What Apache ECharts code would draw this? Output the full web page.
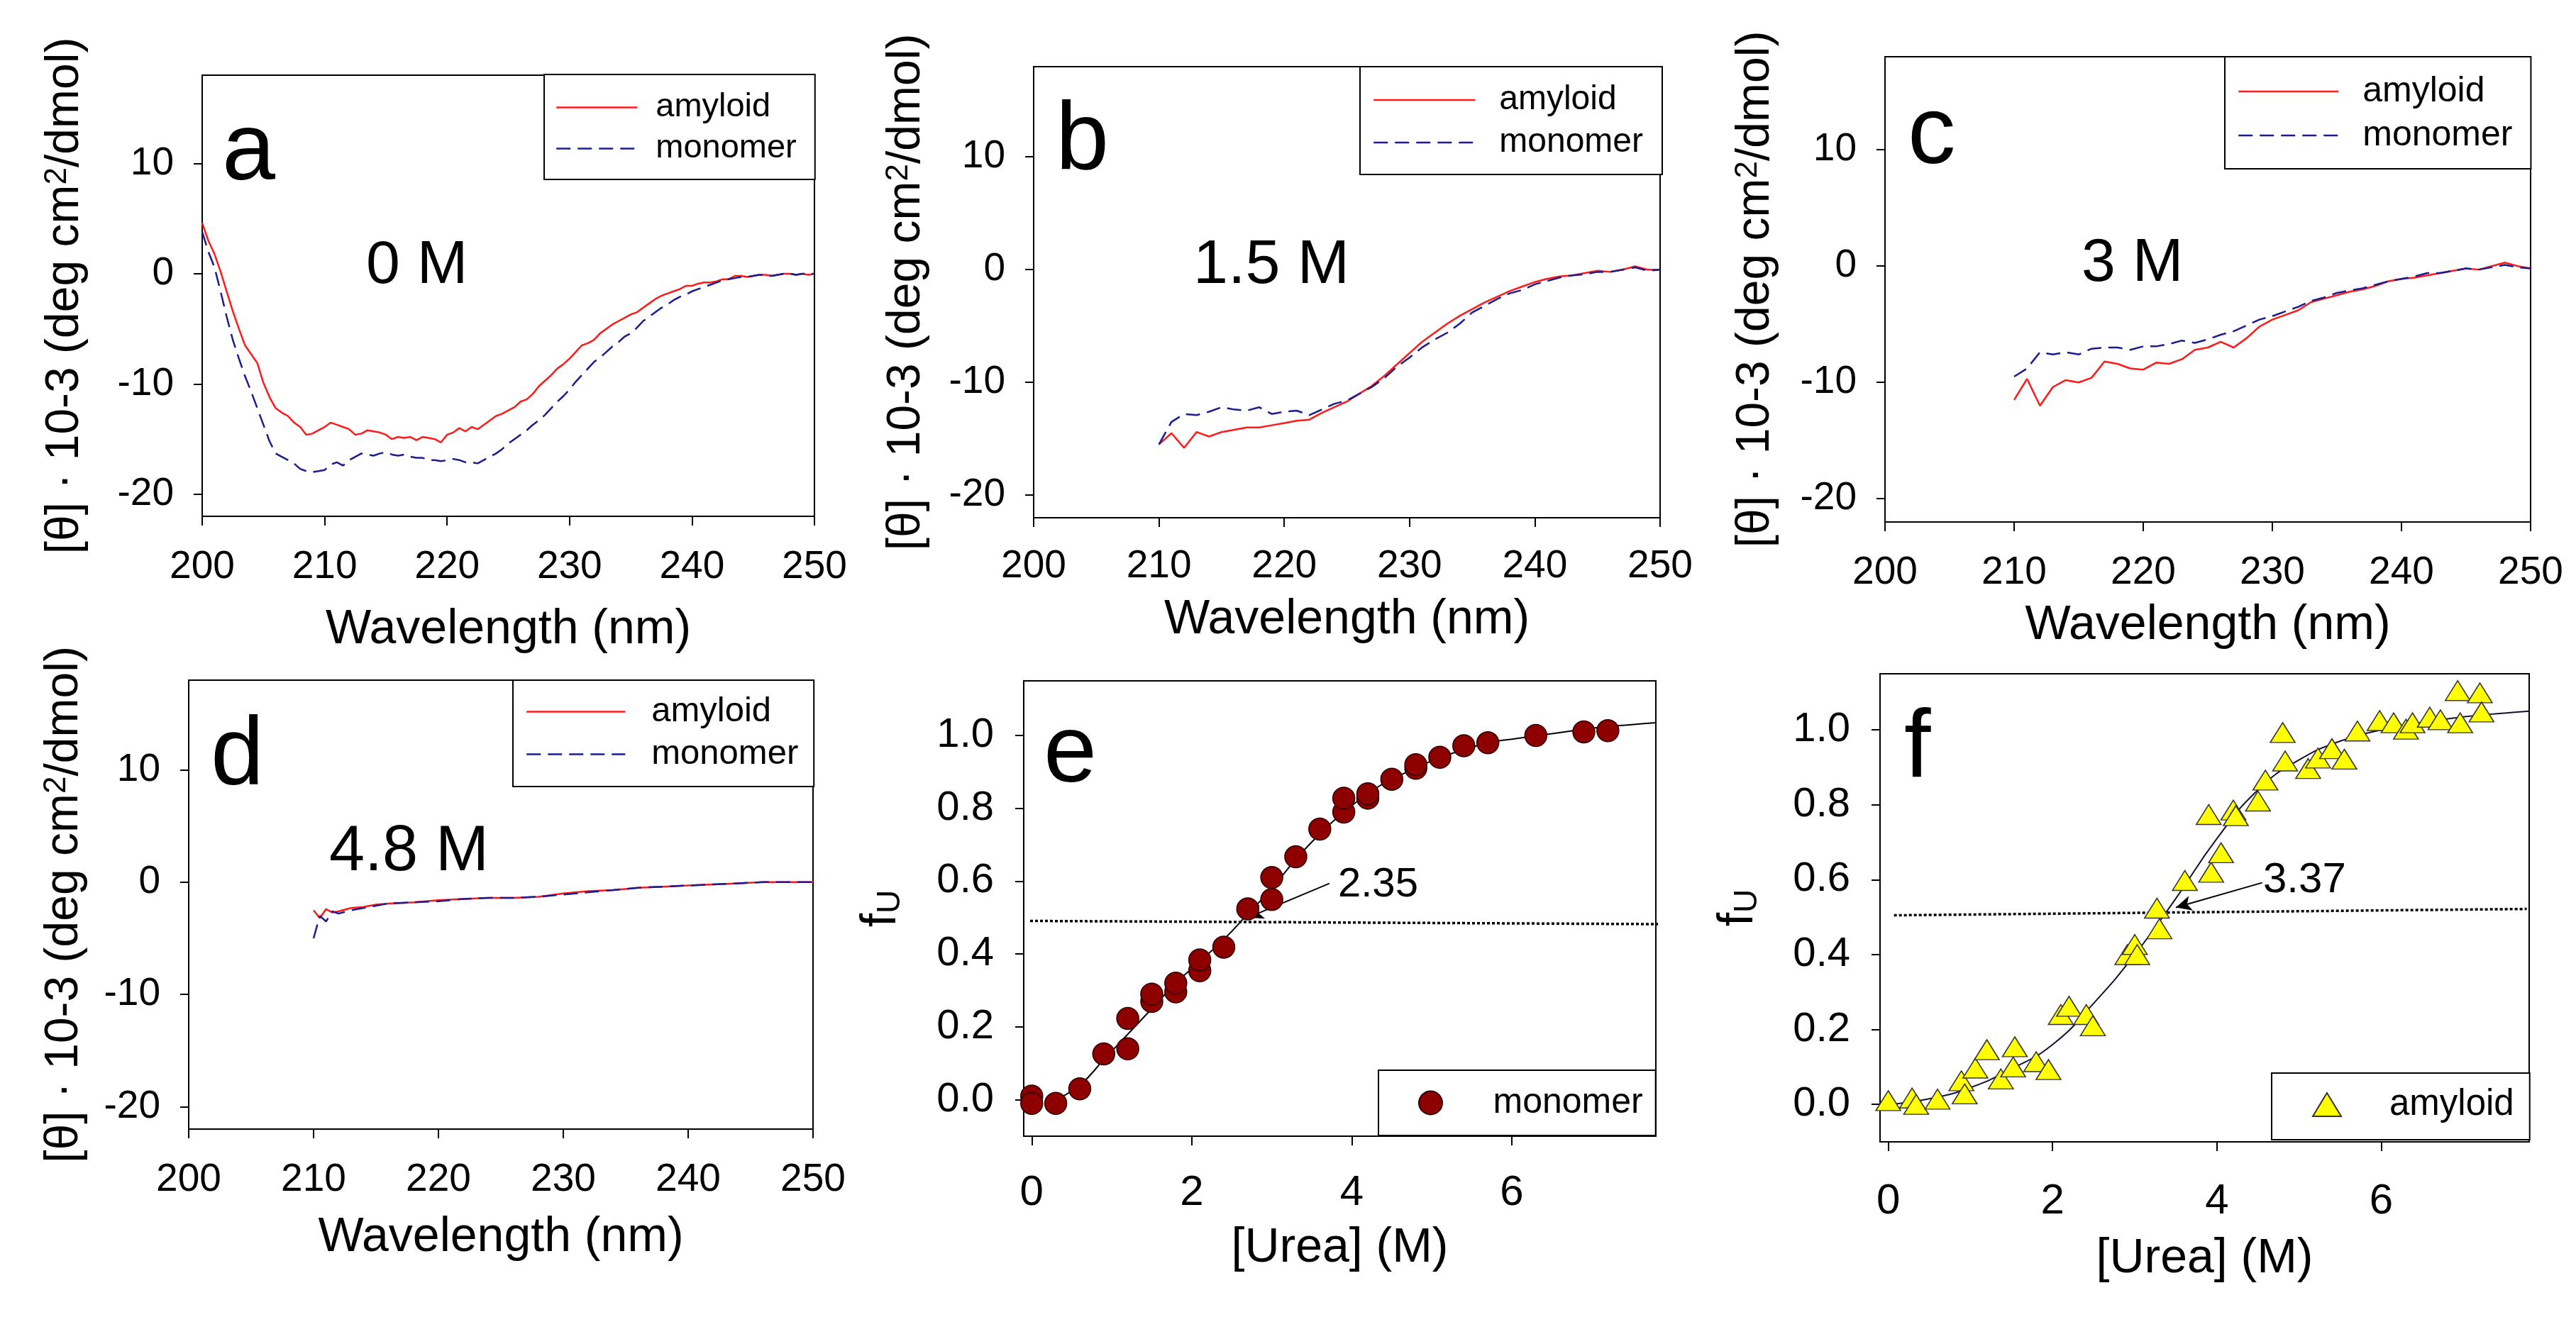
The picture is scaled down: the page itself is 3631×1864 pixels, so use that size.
<!DOCTYPE html>
<html><head><meta charset="utf-8">
<script src="https://cdn.jsdelivr.net/npm/echarts@6/dist/echarts.min.js"></script>
<style>html,body{margin:0;padding:0;background:#fff}#c{width:3631px;height:1864px}</style>
</head><body><div id="c"></div>
<script>
// ---------- DATA ----------
const wlA = [200,200.5,201,201.5,202,202.5,203,203.5,204,204.5,205,205.5,206,206.5,207,207.5,208,208.5,209,209.5,210,210.5,211,211.5,212,212.5,213,213.5,214,214.5,215,215.5,216,216.5,217,217.5,218,218.5,219,219.5,220,220.5,221,221.5,222,222.5,223,223.5,224,224.5,225,225.5,226,226.5,227,227.5,228,228.5,229,229.5,230,230.5,231,231.5,232,232.5,233,233.5,234,234.5,235,235.5,236,236.5,237,237.5,238,238.5,239,239.5,240,240.5,241,241.5,242,242.5,243,243.5,244,244.5,245,245.5,246,246.5,247,247.5,248,248.5,249,249.5,250];
const amyA = [4.6,3.0,1.8,0.2,-1.6,-3.4,-5.0,-6.5,-7.3,-8.1,-9.9,-11.2,-12.2,-12.6,-12.9,-13.5,-13.9,-14.6,-14.5,-14.2,-13.9,-13.5,-13.7,-13.9,-14.1,-14.6,-14.5,-14.2,-14.3,-14.4,-14.6,-15.0,-14.8,-14.9,-14.8,-15.1,-14.8,-14.9,-15.0,-15.3,-14.6,-14.4,-14.0,-14.3,-13.9,-14.1,-13.7,-13.3,-12.9,-12.7,-12.4,-12.1,-11.6,-11.4,-10.9,-10.2,-9.7,-9.2,-8.6,-8.2,-7.7,-7.1,-6.5,-6.3,-6.0,-5.4,-5.0,-4.6,-4.3,-4.0,-3.7,-3.5,-3.1,-2.7,-2.3,-2.0,-1.8,-1.6,-1.4,-1.1,-1.1,-0.9,-0.8,-0.8,-0.7,-0.5,-0.5,-0.2,-0.2,-0.3,-0.2,-0.1,-0.1,-0.2,-0.1,0.0,0.0,-0.1,0.0,-0.1,0.0];
const monoA = [3.8,2.0,0.6,-1.6,-3.9,-6.0,-7.7,-9.3,-10.7,-12.2,-13.7,-15.2,-16.3,-16.6,-16.9,-17.2,-17.7,-17.9,-18.0,-17.9,-17.8,-17.3,-17.1,-17.4,-16.9,-16.6,-16.3,-16.4,-16.5,-16.3,-16.2,-16.4,-16.5,-16.4,-16.6,-16.7,-16.7,-16.9,-16.9,-17.0,-16.9,-16.8,-16.9,-17.1,-17.1,-17.2,-16.9,-16.6,-16.3,-15.9,-15.4,-15.0,-14.6,-14.2,-13.7,-13.3,-12.8,-12.2,-11.6,-11.1,-10.5,-9.8,-9.2,-8.6,-8.0,-7.6,-7.1,-6.6,-6.2,-5.7,-5.4,-4.9,-4.3,-3.9,-3.5,-3.1,-2.8,-2.4,-2.1,-1.9,-1.6,-1.4,-1.2,-1.0,-0.8,-0.6,-0.5,-0.4,-0.3,-0.3,-0.2,-0.1,-0.1,-0.2,-0.1,0.0,0.0,-0.1,0.0,0.0,0.0];

const wlBC = [210,211,212,213,214,215,216,217,218,219,220,221,222,223,224,225,226,227,228,229,230,231,232,233,234,235,236,237,238,239,240,241,242,243,244,245,246,247,248,249,250];
const amyB = [-15.5,-14.5,-15.8,-14.4,-14.8,-14.4,-14.2,-14.0,-14.0,-13.8,-13.6,-13.4,-13.3,-12.7,-12.2,-11.7,-11.0,-10.3,-9.4,-8.4,-7.4,-6.4,-5.6,-4.8,-4.1,-3.5,-2.9,-2.4,-1.9,-1.5,-1.1,-0.8,-0.6,-0.5,-0.3,-0.1,-0.2,0.0,0.3,0.0,0.0];
const monoB = [-15.5,-13.5,-12.8,-12.9,-12.6,-12.2,-12.4,-12.5,-12.2,-12.8,-12.6,-12.5,-12.9,-12.4,-11.9,-11.6,-11.0,-10.4,-9.6,-8.6,-7.8,-6.9,-6.2,-5.6,-4.8,-3.8,-3.2,-2.6,-2.1,-1.8,-1.3,-1.0,-0.7,-0.5,-0.4,-0.2,-0.2,0.0,0.2,-0.1,0.0];
const amyC = [-11.5,-9.7,-12.0,-10.4,-9.8,-10.0,-9.6,-8.2,-8.4,-8.8,-8.9,-8.3,-8.4,-8.0,-7.2,-7.0,-6.5,-7.0,-6.2,-5.2,-4.6,-4.2,-3.8,-3.1,-2.8,-2.5,-2.2,-2.0,-1.7,-1.3,-1.1,-1.0,-0.8,-0.6,-0.4,-0.2,-0.3,0.0,0.3,0.0,-0.2];
const monoC = [-9.5,-8.8,-7.4,-7.6,-7.4,-7.6,-7.1,-7.0,-7.0,-7.2,-6.9,-6.9,-6.7,-6.4,-6.6,-6.3,-5.9,-5.6,-5.1,-4.6,-4.3,-3.9,-3.5,-3.0,-2.7,-2.3,-2.1,-1.9,-1.6,-1.3,-1.1,-0.9,-0.6,-0.6,-0.4,-0.2,-0.3,-0.1,0.1,-0.1,-0.2];

const wlD = [210,210.5,211,211.5,212,213,214,215,216,218,220,222,224,226,228,230,232,234,236,238,240,242,244,246,248,250];
const amyD = [-2.5,-3.2,-2.4,-2.7,-2.6,-2.3,-2.2,-2.0,-1.9,-1.8,-1.6,-1.5,-1.4,-1.4,-1.3,-1.0,-0.8,-0.7,-0.5,-0.4,-0.3,-0.2,-0.1,0.0,0.0,0.0];
const monoD = [-5.0,-3.0,-3.5,-2.6,-2.8,-2.5,-2.3,-2.1,-1.9,-1.8,-1.7,-1.5,-1.4,-1.4,-1.3,-1.1,-0.9,-0.7,-0.5,-0.4,-0.3,-0.2,-0.1,0.0,0.0,0.0];

const ureaE = [0,0,0.3,0.6,0.9,1.2,1.2,1.5,1.5,1.8,1.8,2.1,2.1,2.4,2.7,3.0,3.0,3.3,3.6,3.9,3.9,4.2,4.2,4.5,4.8,4.8,5.1,5.4,5.7,6.3,6.9,7.2];
const fuE = [0.01,-0.01,-0.01,0.03,0.126,0.223,0.14,0.27,0.29,0.296,0.32,0.354,0.384,0.419,0.524,0.55,0.61,0.667,0.743,0.79,0.828,0.828,0.84,0.88,0.91,0.92,0.94,0.972,0.98,1.0,1.01,1.013];
const fitXE = [0.3,0.6,0.9,1.2,1.5,1.8,2.1,2.4,2.7,3.0,3.3,3.6,3.9,4.2,4.5,4.8,5.1,5.4,5.7,6.0,6.5,7.0,7.5,7.8];
const fitYE = [0.0,0.04,0.11,0.18,0.25,0.32,0.38,0.44,0.51,0.58,0.66,0.73,0.79,0.84,0.88,0.91,0.94,0.96,0.98,0.99,1.005,1.02,1.03,1.035];

const ureaF = [0.0,0.29,0.34,0.6,0.89,0.93,1.06,1.2,1.37,1.52,1.54,1.8,1.95,2.1,2.2,2.41,2.49,2.91,3.0,3.03,3.27,3.3,3.61,3.9,3.93,4.05,4.2,4.23,4.5,4.59,4.8,4.83,5.11,5.23,5.4,5.55,5.71,5.98,6.15,6.3,6.38,6.59,6.72,6.93,6.96,7.2,7.22];
const fuF = [0.01,0.017,0.0,0.014,0.063,0.028,0.097,0.146,0.068,0.10,0.154,0.114,0.093,0.24,0.262,0.24,0.21,0.40,0.427,0.40,0.524,0.469,0.598,0.774,0.62,0.672,0.786,0.771,0.81,0.866,0.993,0.917,0.897,0.925,0.95,0.922,0.997,1.025,1.019,1.002,1.019,1.034,1.027,1.105,1.019,1.099,1.048];
const fitXF = [0,0.5,1,1.5,2,2.5,3,3.5,4,4.5,5,5.5,6,6.5,7,7.5,7.8];
const fitYF = [0.0,0.015,0.045,0.095,0.16,0.27,0.40,0.55,0.71,0.84,0.92,0.97,1.0,1.02,1.035,1.045,1.05];

const midLineE = [[-0.02,0.491],[7.95,0.482]];
const midLineF = [[0.07,0.505],[7.77,0.522]];
const arrowE = [[3.72,0.594],[2.7,0.5]];
const arrowF = [[4.55,0.592],[3.5,0.526]];

const wlTicks = [200,210,220,230,240,250];
const cdTicks = [-20,-10,0,10];
const ureaTicks = [0,2,4,6];
const fuTicks = [0,0.2,0.4,0.6,0.8,1.0];

// ---------- CHART ----------
const FONT = '"Liberation Sans", Arial, Helvetica, sans-serif';
const RED = '#ff1a1a', BLUE = '#1c1c8f';
const chart = echarts.init(document.getElementById('c'), null, {renderer:'canvas'});
const zip = (xs, ys) => xs.map((x,i)=>[x, ys[i]]);

const gridBoxes = [
  {left:285, top:106, width:863, height:622},
  {left:1457, top:94, width:883, height:636},
  {left:2657, top:80, width:910, height:656},
  {left:266, top:959, width:880, height:633},
  {left:1443, top:960, width:891, height:642},
  {left:2650, top:950, width:915, height:660}
];
const grid = gridBoxes.map(g => Object.assign({show:true, borderColor:'#000', borderWidth:2, backgroundColor:'rgba(0,0,0,0)', containLabel:false, outerBoundsMode:'none'}, g));

const axisCommon = () => ({
  axisLine:{show:true, onZero:false, lineStyle:{color:'#000', width:2}},
  splitLine:{show:false},
  nameTextStyle:{color:'#000', fontFamily:FONT, fontSize:68}
});
function xCD(gi, gap, margin){
  return Object.assign(axisCommon(), {type:'value', gridIndex:gi, min:200, max:250,
    name:'Wavelength (nm)', nameLocation:'middle', nameGap:gap,
    axisTick:{show:true, length:13, customValues:wlTicks, lineStyle:{color:'#000', width:2}},
    axisLabel:{customValues:wlTicks, fontSize:55, margin:margin, color:'#000', fontFamily:FONT, showMinLabel:true, showMaxLabel:true}});
}
function yCD(gi, gap){
  return Object.assign(axisCommon(), {type:'value', gridIndex:gi, min:-22, max:18,
    name:'{t|[θ] · 10-3 (deg cm}{s|2}{t|/dmol)}', nameLocation:'middle', nameGap:gap, nameRotate:90,
    nameTextStyle:{color:'#000', fontFamily:FONT, rich:{t:{fontSize:66, fontFamily:FONT, color:'#000'}, s:{fontSize:44, fontFamily:FONT, color:'#000', verticalAlign:'top'}}},
    axisTick:{show:true, length:12, customValues:cdTicks, lineStyle:{color:'#000', width:2}},
    axisLabel:{customValues:cdTicks, fontSize:55, margin:40, color:'#000', fontFamily:FONT}});
}
function xU(gi, gap, margin){
  return Object.assign(axisCommon(), {type:'value', gridIndex:gi, min:-0.1, max:7.8,
    name:'[Urea] (M)', nameLocation:'middle', nameGap:gap,
    axisTick:{show:true, length:13, customValues:ureaTicks, lineStyle:{color:'#000', width:2}},
    axisLabel:{customValues:ureaTicks, fontSize:60, margin:margin, color:'#000', fontFamily:FONT}});
}
function yU(gi, gap){
  return Object.assign(axisCommon(), {type:'value', gridIndex:gi, min:-0.1, max:1.15,
    name:'{f|f}{u|U}', nameLocation:'middle', nameGap:gap, nameRotate:90,
    nameTextStyle:{color:'#000', fontFamily:FONT, rich:{f:{fontSize:70, fontFamily:FONT, color:'#000'}, u:{fontSize:46, fontFamily:FONT, color:'#000', verticalAlign:'bottom'}}},
    axisTick:{show:true, length:12, customValues:fuTicks, lineStyle:{color:'#000', width:2}},
    axisLabel:{customValues:fuTicks, fontSize:58, margin:42, color:'#000', fontFamily:FONT, formatter:v=>v.toFixed(1)}});
}

const xAxis = [xCD(0,126,44), xCD(1,110,41), xCD(2,112,44), xCD(3,119,44), xU(4,124,50), xU(5,131,54)];
const yAxis = [yCD(0,160), yCD(1,146), yCD(2,149), yCD(3,142), yU(4,165), yU(5,164)];

function amyLine(i, xs, ys){
  return {type:'line', name:'amyloid', xAxisIndex:i, yAxisIndex:i, data:zip(xs,ys), symbol:'none', showSymbol:false,
    lineStyle:{color:RED, width:2.5, type:'solid'}, itemStyle:{color:RED}, z:3, animation:false};
}
function monoLine(i, xs, ys){
  return {type:'line', name:'monomer', xAxisIndex:i, yAxisIndex:i, data:zip(xs,ys), symbol:'none', showSymbol:false,
    lineStyle:{color:BLUE, width:2.5, type:[20,10]}, itemStyle:{color:BLUE}, z:4, animation:false};
}

const series = [
  amyLine(0, wlA, amyA), monoLine(0, wlA, monoA),
  amyLine(1, wlBC, amyB), monoLine(1, wlBC, monoB),
  amyLine(2, wlBC, amyC), monoLine(2, wlBC, monoC),
  amyLine(3, wlD, amyD), monoLine(3, wlD, monoD),
  // panel e
  {type:'line', xAxisIndex:4, yAxisIndex:4, data:zip(fitXE, fitYE), symbol:'none', smooth:true,
   lineStyle:{color:'#000', width:2}, z:2, animation:false},
  {type:'line', xAxisIndex:4, yAxisIndex:4, data:midLineE, symbol:'none', clip:false,
   lineStyle:{color:'#000', width:3.5, type:[4,3]}, z:2, animation:false},
  {type:'scatter', name:'monomer fU', xAxisIndex:4, yAxisIndex:4, data:zip(ureaE, fuE), symbol:'circle', symbolSize:31,
   itemStyle:{color:'#8e0000', borderColor:'#2a0000', borderWidth:1.5, opacity:1}, z:5, animation:false},
  {type:'line', xAxisIndex:4, yAxisIndex:4, data:[], symbol:'none', z:6, animation:false,
   markLine:{silent:true, symbol:['none','arrow'], symbolSize:[16,22], label:{show:false}, animation:false,
     lineStyle:{color:'#000', width:2, type:'solid'},
     data:[[{coord:arrowE[0]},{coord:arrowE[1]}]]}},
  // panel f
  {type:'line', xAxisIndex:5, yAxisIndex:5, data:zip(fitXF, fitYF), symbol:'none', smooth:true,
   lineStyle:{color:'#111133', width:2}, z:2, animation:false},
  {type:'line', xAxisIndex:5, yAxisIndex:5, data:midLineF, symbol:'none', clip:false,
   lineStyle:{color:'#000', width:3.5, type:[4,3]}, z:2, animation:false},
  {type:'scatter', name:'amyloid fU', xAxisIndex:5, yAxisIndex:5, data:zip(ureaF, fuF), symbol:'triangle', symbolSize:[35,28],
   itemStyle:{color:'#ffff00', borderColor:'#333333', borderWidth:1.5, opacity:1}, z:5, animation:false},
  {type:'line', xAxisIndex:5, yAxisIndex:5, data:[], symbol:'none', z:6, animation:false,
   markLine:{silent:true, symbol:['none','arrow'], symbolSize:[16,22], label:{show:false}, animation:false,
     lineStyle:{color:'#000', width:2, type:'solid'},
     data:[[{coord:arrowF[0]},{coord:arrowF[1]}]]}}
];

function lineLegend(left, top, pad, iw, gap, fs, tpad){
  return {orient:'vertical', left:left, top:top, padding:pad, itemWidth:iw, itemHeight:18, itemGap:gap,
    data:['amyloid','monomer'], backgroundColor:'#fff', borderColor:'#000', borderWidth:2, borderRadius:0,
    selectedMode:false, itemStyle:{opacity:0}, lineStyle:{width:2.5},
    textStyle:{fontSize:fs, fontFamily:FONT, color:'#000', padding:[0,0,0,tpad]}};
}
function symLegend(name, left, top, pad, fs, tpad){
  return {orient:'vertical', left:left, top:top, padding:pad, itemWidth:40, itemHeight:33, itemGap:0,
    data:[name], backgroundColor:'#fff', borderColor:'#000', borderWidth:2, borderRadius:0, selectedMode:false,
    formatter: n => n.split(' ')[0],
    textStyle:{fontSize:fs, fontFamily:FONT, color:'#000', padding:[0,0,0,tpad]}};
}
const legend = [
  lineLegend(767, 105, [23,26,20,16], 114, 11, 47, 21),
  lineLegend(1917, 94, [23,27,21,18], 143, 12, 48, 29),
  lineLegend(3136, 80, [24,26,22,18], 141, 12, 50, 29),
  lineLegend(723, 959, [20,22,21,18], 139, 11, 49, 32),
  symLegend('monomer fU', 1943, 1509, [21,18,21,56], 50, 63),
  symLegend('amyloid fU', 3202, 1513, [19,22,24,57], 51, 63)
];

function txt(s, x, y, fs){
  return {type:'text', x:x, y:y, z:100, silent:true, style:{text:s, fontSize:fs, fontFamily:FONT, fill:'#000', align:'left', verticalAlign:'middle'}};
}
const graphic = [
  txt('a', 313, 216, 135), txt('b', 1488, 201, 135), txt('c', 2689, 193, 135),
  txt('d', 297, 1068, 135), txt('e', 1471, 1065, 135), txt('f', 2684, 1058, 135),
  txt('0 M', 516, 375, 86), txt('1.5 M', 1682, 375, 88), txt('3 M', 2934, 372, 86),
  txt('4.8 M', 464, 1202, 90), txt('2.35', 1886, 1248, 58), txt('3.37', 3190, 1241, 60)
];

chart.setOption({
  backgroundColor:'#fff', animation:false,
  textStyle:{fontFamily:FONT},
  grid, xAxis, yAxis, series, legend, graphic
});
</script></body></html>
